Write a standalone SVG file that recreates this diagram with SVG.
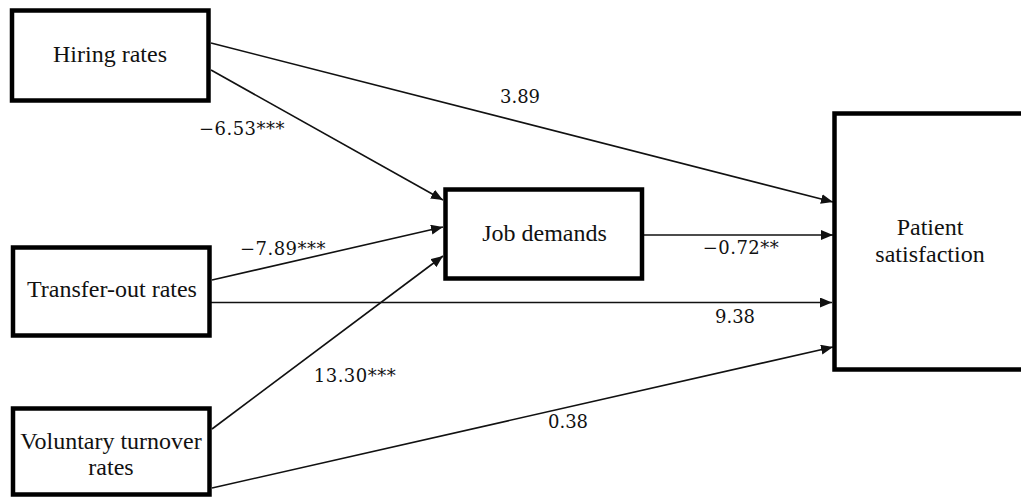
<svg xmlns="http://www.w3.org/2000/svg" width="1021" height="499" viewBox="0 0 1021 499">
<style>
.box{fill:#fff;stroke:#000;stroke-width:4.5}
.lbl{font-family:"Liberation Serif","DejaVu Serif",serif;font-size:24px;fill:#111;text-anchor:middle}
.num{font-family:"DejaVu Serif","Liberation Serif",serif;font-size:18px;fill:#111;text-anchor:middle}
.edge{stroke:#111;stroke-width:1.6;fill:none;marker-end:url(#ah)}
</style>
<defs>
<marker id="ah" viewBox="0 0 12 10" refX="12" refY="5" markerWidth="12" markerHeight="10" markerUnits="userSpaceOnUse" orient="auto">
<path d="M0,0 L12,5 L0,10 z" fill="#111"/>
</marker>
</defs>
<rect width="1021" height="499" fill="#fff"/>
<g id="connectors">
<line class="edge" x1="211" y1="43" x2="833" y2="202"/>
<line class="edge" x1="211" y1="70" x2="443" y2="200"/>
<line class="edge" x1="212" y1="280" x2="443" y2="227"/>
<line class="edge" x1="212" y1="429" x2="443" y2="256"/>
<line class="edge" x1="644" y1="235" x2="833" y2="235"/>
<line class="edge" x1="211" y1="302.5" x2="832" y2="302.5"/>
<line class="edge" x1="212" y1="488" x2="833" y2="347"/>
<text class="num" x="520" y="103">3.89</text>
<text class="num" x="242" y="135" letter-spacing="0.5">−6.53***</text>
<text class="num" x="283" y="255" letter-spacing="0.5">−7.89***</text>
<text class="num" x="355" y="382" letter-spacing="0.5">13.30***</text>
<text class="num" x="741" y="254" letter-spacing="0.5">−0.72**</text>
<text class="num" x="735" y="323">9.38</text>
<text class="num" x="568" y="428">0.38</text>
</g>
<g id="hiring">
<rect class="box" x="12" y="10.5" width="196.5" height="90"/>
<text class="lbl" x="110" y="62">Hiring rates</text>
</g>
<g id="transfer">
<rect class="box" x="13" y="247.5" width="196.5" height="88"/>
<text class="lbl" x="112" y="297">Transfer-out rates</text>
</g>
<g id="voluntary">
<rect class="box" x="13" y="408.5" width="196.5" height="86"/>
<text class="lbl" x="111" y="449" font-size="23">Voluntary turnover</text>
<text class="lbl" x="111" y="475" font-size="23">rates</text>
</g>
<g id="job">
<rect class="box" x="445.5" y="189.5" width="196.5" height="89"/>
<text class="lbl" x="544.5" y="241">Job demands</text>
</g>
<g id="patient">
<rect class="box" x="834.5" y="113.5" width="200" height="256"/>
<text class="lbl" x="930" y="235">Patient</text>
<text class="lbl" x="930" y="262">satisfaction</text>
</g>
</svg>
